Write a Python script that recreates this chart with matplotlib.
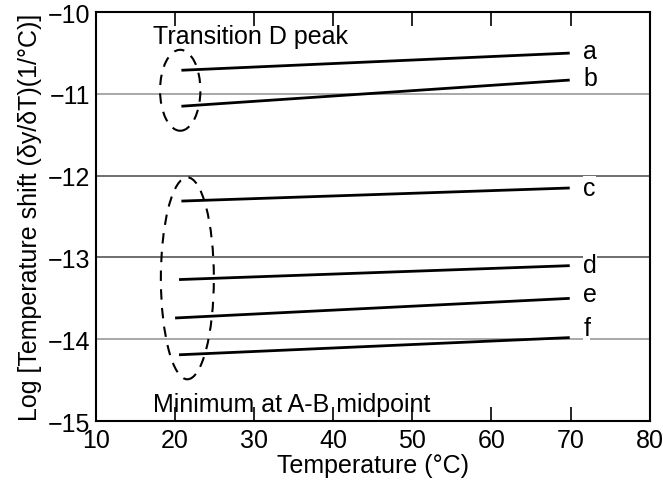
import matplotlib
matplotlib.use("Agg")
import matplotlib.pyplot as plt
from matplotlib.patches import Ellipse

plt.rcParams['font.family'] = ['Liberation Sans', 'DejaVu Sans']

# Data
series_labels = ['a', 'b', 'c', 'd', 'e', 'f']
x_start = [20.8, 20.8, 20.8, 20.5, 20.0, 20.5]
x_end = [69.9, 69.9, 69.9, 69.9, 69.9, 69.9]
y_start = [-10.71, -11.15, -12.31, -13.27, -13.74, -14.19]
y_end = [-10.50, -10.83, -12.15, -13.10, -13.50, -13.98]
label_y = [-10.47, -10.80, -12.15, -13.09, -13.45, -13.86]
grid_levels = [-11, -12, -13, -14]
grid_colors = ['#9a9a9a', '#555555', '#555555', '#9a9a9a']
x_ticks = [10, 20, 30, 40, 50, 60, 70, 80]
y_ticks = [-10, -11, -12, -13, -14, -15]

fig = plt.figure(figsize=(6.63, 4.89), dpi=100)
ax = fig.add_axes([0.1448, 0.137, 0.835, 0.836])

for lvl, col in zip(grid_levels, grid_colors):
    ax.axhline(lvl, color=col, lw=1.2, zorder=1)

for lab, xs, xe, ys, ye, ly in zip(series_labels, x_start, x_end, y_start, y_end, label_y):
    ax.plot([xs, xe], [ys, ye], color='black', lw=2.0, solid_capstyle='butt', zorder=3)
    ax.text(71.6, ly, lab, fontsize=18, ha='left', va='center', zorder=4,
            bbox=dict(facecolor='white', edgecolor='none', pad=0.0))

ax.add_patch(Ellipse((20.65, -10.955), 5.1, 0.99, fill=False, ec='black',
                     lw=1.5, ls=(0, (5, 4)), zorder=2))
ax.add_patch(Ellipse((21.55, -13.255), 6.7, 2.47, fill=False, ec='black',
                     lw=1.5, ls=(0, (5, 4)), zorder=2))

ax.text(17.25, -10.29, 'Transition D peak', fontsize=18, ha='left', va='center')
ax.text(17.25, -14.79, 'Minimum at A-B midpoint', fontsize=18, ha='left', va='center')

ax.set_xlim(10, 80)
ax.set_ylim(-15, -10)
ax.set_xticks(x_ticks)
ax.set_xticklabels([str(t) for t in x_ticks])
ax.set_yticks(y_ticks)
ax.set_yticklabels(['\u2212' + str(abs(t)) for t in y_ticks])
ax.tick_params(axis='x', direction='in', length=10, width=1.2, top=True,
               labelsize=18, pad=5)
ax.tick_params(axis='y', length=0, labelsize=18, pad=4)
for s in ax.spines.values():
    s.set_linewidth(1.5)

ax.set_xlabel('Temperature (\u00b0C)', fontsize=18, labelpad=1)
ax.set_ylabel('Log [Temperature shift (\u03b4y/\u03b4T)(1/\u00b0C)]', fontsize=18, labelpad=4)

fig.savefig('out.png', dpi=100)
